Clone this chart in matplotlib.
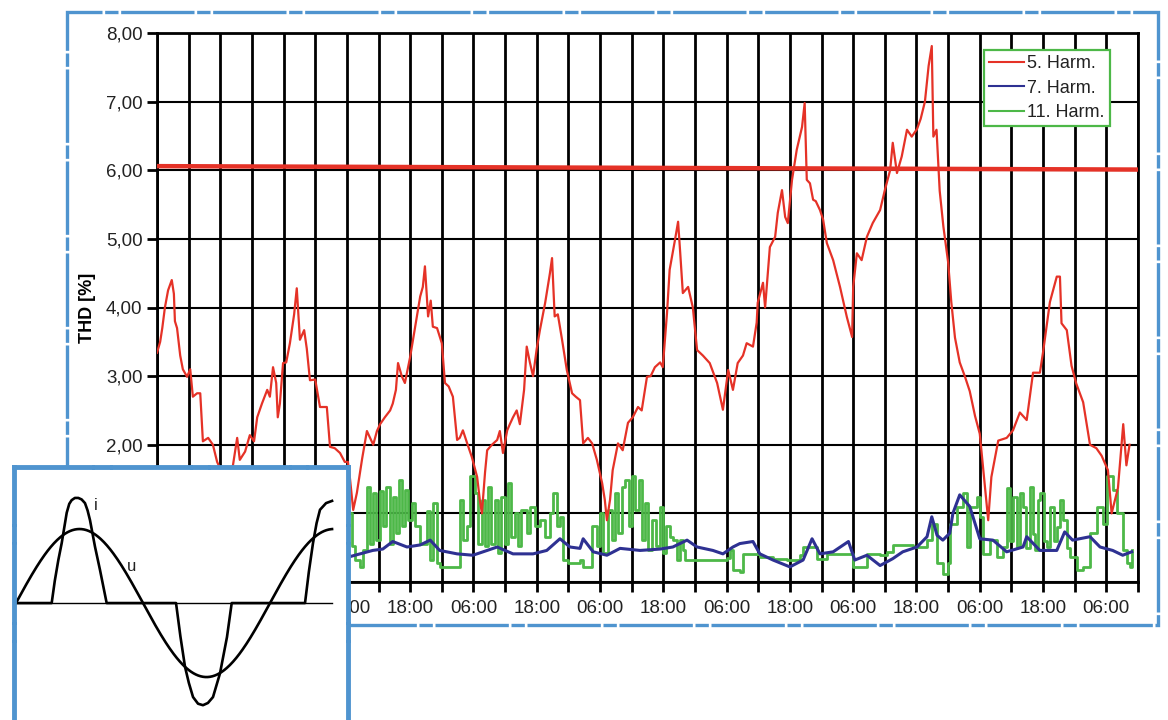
import numpy as np
import matplotlib
matplotlib.use("Agg")
import matplotlib.pyplot as plt
from matplotlib.patches import Rectangle
from matplotlib.lines import Line2D

plt.rcParams['font.family'] = ['Liberation Sans', 'DejaVu Sans']

# ---- time axis: hours counted from 18:00 of the first day ----
T_END = 186
tick_hours = np.arange(0, T_END + 1, 6)
label_cycle = ['18:00', '06:00']

# ---- 5th harmonic (hours, %) ----
h5_t = [0, 0.6, 1.0, 1.5, 2.1, 2.8, 3.2, 3.4, 3.8, 4.4, 4.9, 5.7, 6.3, 6.8, 7.6, 8.2, 8.7,
        9.7, 10.6, 11.4, 12.3, 13.5, 14.4, 15.2, 15.7, 16.7, 17.6, 18.4, 19.0, 19.9, 20.9,
        21.4, 22.0, 22.6, 22.9, 23.3, 23.9, 24.5, 25.2, 26.0, 26.5, 27.1, 27.9, 28.4, 29.0,
        30.0, 30.9, 32.2, 32.8, 33.7, 34.7, 35.6, 36.2, 36.6, 37.2, 37.9, 38.9, 39.8, 40.4,
        41.0, 41.7, 42.3, 43.2, 44.2, 44.7, 45.3, 45.7, 46.4, 47.0, 48.0, 48.9, 49.9, 50.4,
        50.8, 51.4, 51.9, 52.3, 53.1, 54.0, 54.6, 55.3, 56.1, 56.9, 57.4, 58.0, 58.9, 59.7,
        60.7, 61.2, 61.6, 62.2, 62.6, 63.5, 64.5, 65.0, 65.6, 66.4, 66.9, 67.5, 68.2, 68.8,
        69.6, 70.1, 70.7, 71.3, 72.0, 72.6, 73.6, 74.5, 74.9, 75.4, 76.0, 76.8, 77.7, 78.7,
        79.4, 80.2, 80.8, 81.7, 82.5, 83.4, 84.4, 84.9, 85.3, 85.9, 86.4, 87.4, 88.3, 89.3,
        90.2, 91.2, 91.9, 92.9, 93.6, 94.4, 95.4, 95.9, 96.7, 97.2, 98.2, 98.8, 99.2, 99.7,
        100.7, 101.6, 102.4, 103.5, 104.8, 106.2, 107.3, 108.3, 109.2, 110.1, 111.1, 111.8,
        113.0, 113.7, 113.9, 114.9, 115.3, 116.2, 117.2, 117.7, 118.5, 119.1, 119.6, 120.4,
        121.3, 122.3, 122.8, 123.2, 123.8, 124.4, 124.9, 125.7, 126.3, 127.0, 128.2, 129.5,
        130.8, 131.8, 132.0, 132.7, 133.6, 134.6, 135.7, 137.1, 138.0, 139.0, 139.5, 140.3,
        141.2, 142.2, 143.1, 144.1, 144.8, 145.6, 146.3, 146.9, 147.2, 147.8, 148.4, 149.1,
        150.0, 150.6, 151.3, 152.2, 153.2, 154.1, 155.1, 156.0, 156.6, 157.6, 158.2, 159.5,
        161.1, 162.3, 163.6, 164.9, 166.1, 167.4, 168.0, 169.3, 170.6, 171.2, 171.5, 172.5,
        173.4, 174.3, 175.6, 176.9, 178.1, 179.1, 180.3, 181.0, 182.2, 183.2, 183.8, 184.4]
h5_v = [3.34, 3.5, 3.7, 4.0, 4.25, 4.40, 4.2, 3.8, 3.7, 3.3, 3.1, 2.99, 3.1, 2.7, 2.75, 2.75, 2.05,
        2.1, 2.0, 1.75, 1.6, 1.55, 1.7, 2.1, 1.78, 1.9, 2.14, 2.05, 2.4, 2.6, 2.8,
        2.7, 3.13, 2.9, 2.4, 2.6, 3.19, 3.2, 3.48, 3.9, 4.28, 3.53, 3.67, 3.4, 2.94,
        2.95, 2.55, 2.55, 1.97, 1.95, 1.88, 1.75, 1.75, 1.5, 1.05, 1.3, 1.8, 2.2, 2.1,
        2.0, 2.2, 2.3, 2.4, 2.5, 2.6, 2.8, 3.19, 3.0, 2.9, 3.28, 3.7, 4.16, 4.3,
        4.6, 3.87, 4.1, 3.72, 3.7, 3.48, 2.9, 2.85, 2.7, 2.07, 2.1, 2.21, 2.0, 1.82,
        1.53, 1.2, 1.0, 1.6, 1.92, 2.0, 2.07, 2.2, 1.88, 2.21, 2.3, 2.4, 2.5, 2.3,
        2.8, 3.43, 3.2, 3.0, 3.4, 3.67, 4.07, 4.5, 4.72, 3.87, 3.9, 3.53, 3.09, 2.75,
        2.7, 2.65, 2.02, 2.1, 2.02, 1.78, 1.44, 1.2, 0.9, 1.2, 1.63, 2.02, 1.92, 2.32,
        2.4, 2.55, 2.5, 2.99, 3.0, 3.13, 3.2, 3.13, 3.92, 4.55, 4.98, 5.25, 4.8, 4.21,
        4.3, 4.0, 3.38, 3.3, 3.19, 2.9, 2.51, 3.09, 2.8, 3.19, 3.3, 3.48,
        3.43, 3.78, 4.07, 4.36, 4.0, 4.88, 5.03, 5.38, 5.71, 5.32, 5.23, 5.86,
        6.3, 6.63, 6.98, 5.86, 5.81, 5.57, 5.55, 5.42, 5.28, 4.94, 4.69, 4.3,
        3.86, 3.57, 4.3, 4.79, 4.69, 5.03, 5.23, 5.42, 5.71, 6.0, 6.4, 5.96,
        6.2, 6.59, 6.49, 6.6, 6.75, 7.0, 7.52, 7.81, 6.49, 6.59, 5.7, 5.18,
        4.66, 4.08, 3.56, 3.2, 2.99, 2.78, 2.42, 2.16, 1.69, 0.9, 1.53, 2.06,
        2.1, 2.21, 2.47, 2.36, 3.05, 3.05, 3.35, 4.08, 4.45, 4.45, 3.77, 3.67,
        3.15, 2.89, 2.62, 2.0, 1.95, 1.84, 1.63, 1.0, 1.37, 2.3, 1.7, 2.0]

# ---- 7th harmonic (hours, %) ----
h7_t = [0, 12, 24, 36, 36.6, 38.5, 40.9, 42.8, 44.7, 47.4, 49.9, 51.8, 53.6, 56.9, 59.9, 62.6,
        64.5, 67.5, 71.3, 73.9, 76.4, 78.3, 80.2, 80.8, 82.7, 85.3, 87.8, 91.6, 95.4, 97.8,
        100.5, 102.4, 105.4, 107.3, 109.2, 110.5, 113.0, 114.3, 116.8, 120.0, 122.5, 124.2,
        125.7, 128.2, 131.1, 132.3, 134.6, 137.1, 139.5, 141.4, 144.1, 146.0, 146.9, 147.9,
        149.0, 150.3, 150.9, 152.2, 154.1, 156.0, 158.5, 161.1, 164.2, 164.9, 167.4, 170.6,
        172.1, 173.6, 176.9, 178.8, 181.2, 183.1, 184.8]
h7_v = [0.45, 0.5, 0.42, 0.45, 0.37, 0.41, 0.46, 0.48, 0.59, 0.51, 0.54, 0.61, 0.46, 0.41, 0.39, 0.46,
        0.51, 0.41, 0.41, 0.46, 0.63, 0.51, 0.49, 0.63, 0.44, 0.39, 0.49, 0.46, 0.48, 0.51,
        0.61, 0.51, 0.46, 0.41, 0.51, 0.56, 0.59, 0.41, 0.32, 0.22, 0.32, 0.63,
        0.41, 0.44, 0.59, 0.32, 0.39, 0.24, 0.34, 0.44, 0.51, 0.66, 0.95, 0.68,
        0.61, 0.71, 1.0, 1.27, 1.1, 0.63, 0.61, 0.44, 0.51, 0.66, 0.46, 0.46,
        0.73, 0.61, 0.66, 0.51, 0.46, 0.39, 0.44]

# ---- 11th harmonic (hours, %) ----
h11_t = [0, 6, 8, 12, 16, 24, 30, 34,
         35.6, 36.9, 37.5, 38.5, 39.1, 39.8, 40.4, 41.0, 41.6, 42.3, 42.9, 43.5, 44.2, 44.8,
         45.4, 45.8, 46.4, 47.0, 47.6, 48.3, 48.9, 49.9, 51.1, 51.8, 52.4, 53.0, 53.6, 57.4,
         58.1, 58.7, 59.3, 60.3, 60.9, 61.6, 62.2, 62.8, 63.4, 64.1, 64.7, 65.3, 66.0, 66.6,
         67.2, 67.9, 68.5, 69.1, 70.1, 70.7, 71.7, 72.6, 73.6, 74.5, 75.1, 75.8, 76.4, 77.0,
         78.0, 80.2, 80.8, 82.4, 83.4, 84.0, 84.6, 85.6, 86.2, 86.8, 87.5, 88.1, 88.7, 89.4,
         90.0, 90.6, 91.3, 91.9, 92.5, 93.1, 93.8, 94.7, 95.4, 96.0, 96.6, 97.3, 97.9, 98.5,
         99.1, 99.8, 100.1,
         107.3, 108.0, 108.6, 109.2, 110.5, 111.1, 114.3, 116.8, 119.4, 121.9, 122.5, 125.1,
         127.0, 129.5, 131.9, 134.6, 137.1, 138.4, 139.5, 143.3, 146.0, 146.9, 147.9, 149.0,
         150.0, 150.3, 151.7, 152.8, 153.6, 154.1, 155.4, 156.0, 156.6, 157.9, 159.2, 160.4,
         161.1, 161.7, 162.3, 163.0, 163.6, 164.2, 164.8, 165.5, 166.0, 166.4, 167.0, 167.4,
         168.1, 168.7, 169.3, 170.0, 170.6, 171.2, 171.8, 172.5, 173.1, 174.4, 175.5, 176.9,
         178.2, 179.3, 180.1, 181.2, 182.0, 183.1, 183.9, 184.4, 184.8]
h11_v = [0.45, 1.2, 0.5, 1.3, 0.4, 0.45, 1.1, 1.0,
         1.0, 0.52, 0.32, 0.22, 0.47, 1.39, 0.56, 1.29, 0.61, 1.32, 0.81, 1.39, 0.56, 1.24,
         0.71, 1.49, 0.81, 1.34, 0.9, 1.15, 0.81, 0.56, 1.03, 0.32, 1.15, 0.27, 0.22, 1.2,
         0.61, 0.81, 1.54, 1.29, 0.56, 1.2, 0.52, 1.39, 0.56, 1.2, 0.42, 1.24, 0.56, 1.44,
         0.66, 1.0, 0.52, 1.05, 0.71, 1.1, 0.81, 0.9, 0.66, 1.0, 1.29, 0.81, 0.95, 0.32,
         0.27, 0.32, 0.22, 0.81, 0.52, 1.0, 0.42, 1.05, 0.61, 1.29, 0.71, 1.39, 1.49, 0.81,
         1.54, 1.05, 1.49, 0.61, 1.15, 0.47, 0.9, 0.52, 1.1, 0.42, 0.81, 0.66, 0.61, 0.32,
         0.61, 0.47, 0.32,
         0.32, 0.35, 0.47, 0.17, 0.15, 0.41, 0.37, 0.34, 0.32, 0.39, 0.51, 0.34,
         0.41, 0.41, 0.22, 0.41, 0.39, 0.44, 0.54, 0.51, 0.61, 0.85, 0.27, 0.12,
         0.27, 0.85, 1.1, 1.29, 0.51, 1.1, 1.24, 0.95, 0.41, 0.61, 0.37, 0.51,
         1.37, 0.6, 1.24, 0.51, 1.3, 1.1, 0.5, 1.39, 0.7, 0.46, 1.2, 1.3,
         0.6, 0.51, 1.1, 0.6, 0.8, 1.2, 0.9, 0.5, 0.37, 0.17, 0.22, 0.71,
         1.1, 0.85, 1.54, 1.34, 1.0, 0.46, 0.27, 0.22, 0.46]

# ---- limit line for the 5th harmonic ----
limit_t = [0, T_END]
limit_v = [6.06, 6.01]

# ---- inset: voltage u and current i over one and a quarter periods ----
U_PEAK = 1.0
phase_end = 447.9
i_phase = [0, 50.6, 55, 60, 64.8, 71.9, 75.5, 78.9, 83.5, 88.3, 93, 97.8, 101.5, 104.9, 112, 119, 128.5,
           226.8, 233, 239.5, 245, 250.9, 258, 265, 272, 279.2, 289.1, 299, 305.7,
           409.6, 415, 420.9, 426, 430.8, 439.4, 447.9]
i_value = [0, 0, 0.3, 0.58, 0.81, 1.22, 1.34, 1.39, 1.42, 1.42, 1.40, 1.35, 1.25, 1.12, 0.76, 0.45, 0,
           0, -0.45, -0.86, -1.08, -1.27, -1.36, -1.38, -1.35, -1.27, -0.95, -0.46, 0,
           0, 0.42, 0.81, 1.08, 1.26, 1.35, 1.38]

RED = '#E53227'
BLUE = '#2E3192'
GREEN = '#4DB848'
FRAME = '#4F94CF'

W, H = 1168, 720
fig = plt.figure(figsize=(W / 100, H / 100), dpi=100)
fig.patch.set_facecolor('white')

# ---- main chart ----
ax = fig.add_axes([157 / W, 1 - 582 / H, (1138 - 157) / W, (582 - 33) / H])
ax.set_xlim(0, T_END)
ax.set_ylim(0, 8)
ax.set_xticks(tick_hours)
ax.set_xticklabels([label_cycle[(h // 12) % 2] if h % 12 == 0 else '' for h in tick_hours])
ax.set_yticks(np.arange(0, 9))
ax.set_yticklabels([f'{v:.2f}'.replace('.', ',') for v in range(9)])
ax.tick_params(axis='both', labelsize=13.5, width=2, length=7, color='black', labelcolor='#222222')
ax.tick_params(axis='x', pad=6)
ax.set_axisbelow(True)
ax.xaxis.grid(True, color='black', lw=2.0)
ax.yaxis.grid(True, color='black', lw=1.5)
for s in ax.spines.values():
    s.set_color('black')
    s.set_linewidth(2)
ax.set_ylabel('THD [%]', fontsize=13, fontweight='bold', labelpad=7)

ax.plot(limit_t, limit_v, color=RED, lw=3.2, solid_capstyle='butt', zorder=3)
ax.plot(h11_t, h11_v, color=GREEN, lw=2.0, drawstyle='steps-post', zorder=4)
ax.plot(h7_t, h7_v, color=BLUE, lw=2.2, zorder=5)
ax.plot(h5_t, h5_v, color=RED, lw=1.6, zorder=6)

handles = [Line2D([], [], color=RED, lw=1.5),
           Line2D([], [], color=BLUE, lw=1.5),
           Line2D([], [], color=GREEN, lw=1.5)]
leg = ax.legend(handles, ['5. Harm.', '7. Harm.', '11. Harm.'], loc='upper right',
                bbox_to_anchor=((1110 - 157) / (1138 - 157), (582 - 50) / (582 - 33)),
                borderaxespad=0, fontsize=13, fancybox=False, framealpha=1,
                handlelength=1.9, handletextpad=0.2, labelspacing=0.4, borderpad=0.3)
leg.get_frame().set_edgecolor(GREEN)
leg.get_frame().set_linewidth(1.6)
for txt in leg.get_texts():
    txt.set_color('#222222')

# ---- frame around the main chart ----
fig.add_artist(Rectangle((67 / W, 1 - 625 / H), (1158 - 67) / W, (625 - 12) / H,
                         transform=fig.transFigure, fill=False, edgecolor=FRAME,
                         lw=2.4, linestyle=(0, (22, 0.8, 4, 0.8)), zorder=2))

# ---- inset with the waveforms ----
ins = fig.add_axes([14 / W, 0, (348 - 14) / W, 1 - 467 / H], zorder=10)
ins.set_facecolor('white')
ins.set_xlim(-2.8, 470.5)
ins.set_ylim(-1.58, 1.838)
ins.set_xticks([])
ins.set_yticks([])
for name in ['left', 'top', 'right']:
    ins.spines[name].set_color(FRAME)
    ins.spines[name].set_linewidth(3.5)
    ins.spines[name].set_linestyle((0, (16, 0.6, 3, 0.6)))
ins.spines['bottom'].set_visible(False)

phase = np.linspace(0, phase_end, 400)
ins.plot([0, phase_end], [0, 0], color='black', lw=1.0)
ins.plot(phase, U_PEAK * np.sin(np.radians(phase)), color='black', lw=1.9)
ins.plot(i_phase, i_value, color='black', lw=1.9)
ins.text(113.4, 1.32, 'i', fontsize=12, ha='center', va='center', color='#222222')
ins.text(164.4, 0.49, 'u', fontsize=12, ha='center', va='center', color='#222222')

fig.savefig('out.png', dpi=100, facecolor='white')
